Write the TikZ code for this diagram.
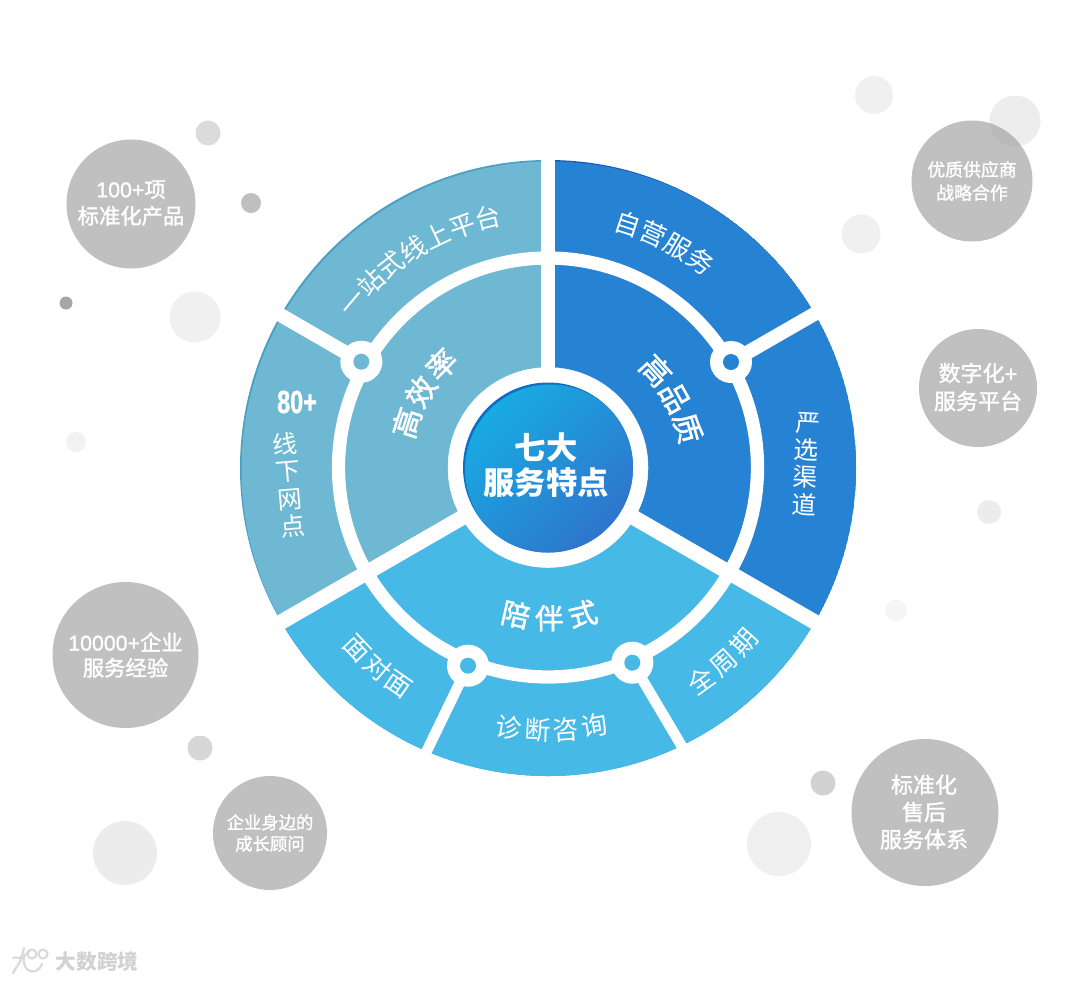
\documentclass[tikz,border=0pt]{standalone}
\usepackage{fontspec}
\setmainfont{Noto Sans CJK SC}
\newfontfamily\med[FakeBold=1.5]{Noto Sans CJK SC}
\newfontfamily\lat[FakeBold=1.2]{Liberation Sans}
\usetikzlibrary{decorations.text}
\definecolor{teal}{HTML}{6FB8D3}\definecolor{tealD}{HTML}{4A9FC2}
\definecolor{blu}{HTML}{2683D3}\definecolor{bluD}{HTML}{1A5CB8}
\definecolor{sky}{HTML}{46B9E6}\definecolor{skyD}{HTML}{2A8ED6}
\definecolor{gcirc}{HTML}{C0C0C0}
\definecolor{cTop}{HTML}{18ABE2}\definecolor{cBot}{HTML}{2F74CC}\definecolor{cRim}{HTML}{0F6EC4}
\newcommand\fs[1]{\fontsize{#1}{#1}\selectfont}
% text along an arc about C: text, radius, start angle, end angle, font commands
\newcommand\arctext[5]{\path[decorate,decoration={text along path,text color=white,text align={fit to path},text={|#5|#1}}] ([shift={(C)}]#3:#2) arc[start angle=#3,end angle=#4,radius=#2];}
\newcommand\wheelpaths[1]{%
  \draw[#1,line width=11pt] (C) -- (T);
  \draw[#1,line width=11.5pt] (C) -- (RL);
  \draw[#1,line width=11.5pt] (C) -- (LL);
  \draw[#1,line width=10.5pt] (NW) -- (NWo);
  \draw[#1,line width=10.5pt] (NE) -- (NEo);
  \draw[#1,line width=8pt] (SL) -- (SLo);
  \draw[#1,line width=8pt] (SR) -- (SRo);
  \draw[#1,line width=10pt] (Cr) circle[radius=209.5];
  \fill[#1] (Cr) circle[radius=100];
}
\tikzset{
  big/.style={circle,fill=gcirc,inner sep=0,text=white,align=center},
  dotc/.style={fill=#1},
  ctext/.style={text=white,inner sep=0,align=center}
}
\begin{document}
\begin{tikzpicture}[x=0.75pt,y=0.75pt]
\useasboundingbox (0,0) rectangle (1080,-982);
\fill[white] (0,0) rectangle (1080,-982);
% anchor points
\coordinate (C) at (548,-468);
\coordinate (Cr) at (548,-467.5);
\coordinate (T) at (548,-140);
\coordinate (RL) at (840,-636.6);
\coordinate (LL) at (256,-636.6);
\coordinate (NW) at (361.3,-361.7);
\coordinate (NE) at (731,-362);
\coordinate (SL) at (468,-665.7);
\coordinate (SR) at (632.3,-662.7);
\coordinate (NWo) at (265,-306);
\coordinate (NEo) at (830,-305);
\coordinate (SLo) at (420,-765);
\coordinate (SRo) at (690,-760);
% small decorative circles
\fill[gray!12] (874,-95) circle[radius=19];
\fill[gray!12] (861,-234) circle[radius=19.5];
\fill[gray!15] (989,-512) circle[radius=12];
\fill[gray!8] (896,-610) circle[radius=10.5];
\fill[gray!35] (823,-783) circle[radius=12.5];
\fill[gray!12] (779,-844) circle[radius=32];
\fill[gray!32] (200,-748) circle[radius=12.5];
\fill[gray!15] (125,-853) circle[radius=32];
\fill[gray!10] (76,-442) circle[radius=10];
\fill[gray!70] (66,-303) circle[radius=6.5];
\fill[gray!12] (195,-317) circle[radius=25.5];
\fill[gray!50] (251,-203) circle[radius=10];
\fill[gray!28] (208,-133) circle[radius=12.5];
% grey label circles
\node[big,minimum size=129*0.75pt] (c1) at (131,-204) {};
\node[big,minimum size=121*0.75pt] (c2) at (972,-181) {};
\node[big,minimum size=118*0.75pt] (c3) at (978,-388) {};
\node[big,minimum size=146*0.75pt] (c4) at (125.5,-655) {};
\node[big,minimum size=114*0.75pt] (c5) at (270,-833) {};
\node[big,minimum size=147*0.75pt] (c6) at (925,-812.5) {};
\fill[black!38,opacity=.18] (1015,-121) circle[radius=25.5];
\node[ctext,font=\med\fs{16}] (t1) at (131,-203) {{\lat 100+}项\\[4pt]标准化产品};
\node[ctext,font=\med\fs{13.4}] (t2) at (972,-181) {优质供应商\\[4pt]战略合作};
\node[ctext,font=\med\fs{16.5}] (t3) at (978,-387) {数字化{\lat +}\\[4.5pt]服务平台};
\node[ctext,font=\med\fs{16}] (t4) at (125.5,-655) {{\lat 10000+}企业\\[3pt]服务经验};
\node[ctext,font=\med\fs{13}] (t5) at (270,-833) {企业身边的\\[3pt]成长顾问};
\node[ctext,font=\med\fs{16.5}] (t6) at (924,-812) {标准化\\[4pt]售后\\[4pt]服务体系};
% coloured sectors with their top-left shadow edges
\begin{scope}
  \clip (C) circle[radius=308];
  \begin{scope}
    \clip (C) -- ([shift={(C)}]90:800) -- ([shift={(C)}]150:800) -- ([shift={(C)}]210:800) -- cycle;
    \fill[tealD] (C) circle[radius=308];
    \fill[teal] (549.5,-469.5) circle[radius=308];
    \begin{scope}[shift={(1.8,-1.8)}]\wheelpaths{tealD,draw=tealD}\end{scope}
  \end{scope}
  \begin{scope}
    \clip (C) -- ([shift={(C)}]90:800) -- ([shift={(C)}]30:800) -- ([shift={(C)}]-30:800) -- cycle;
    \fill[bluD] (C) circle[radius=308];
    \fill[blu] (549.5,-469.5) circle[radius=308];
    \begin{scope}[shift={(1.8,-1.8)}]\wheelpaths{bluD,draw=bluD}\end{scope}
  \end{scope}
  \begin{scope}
    \clip (C) -- ([shift={(C)}]210:800) -- ([shift={(C)}]270:800) -- ([shift={(C)}]330:800) -- cycle;
    \fill[skyD] (C) circle[radius=308];
    \fill[sky] (549.5,-469.5) circle[radius=308];
    \begin{scope}[shift={(1.8,-1.8)}]\wheelpaths{skyD,draw=skyD}\end{scope}
  \end{scope}
\end{scope}
% white separators
\wheelpaths{white,draw=white}
% junction rings
\fill[white] (NW) circle[radius=21];
\fill[white] (NE) circle[radius=21];
\fill[white] (SL) circle[radius=21];
\fill[white] (SR) circle[radius=21];
\fill[dotc=teal] (NW) circle[radius=8];
\fill[dotc=blu] (NE) circle[radius=8];
\fill[dotc=sky] (SL) circle[radius=8];
\fill[dotc=sky] (SR) circle[radius=8];
% centre disc
\fill[cRim] (Cr) circle[radius=85];
\begin{scope}
  \clip (Cr) circle[radius=85];
  \shade[top color=cTop,bottom color=cBot,shading angle=45] (550,-469.5) circle[radius=85];
\end{scope}
\node[ctext,font=\bfseries\fs{23.5}] (centre) at (546,-465) {七大\\[2.5pt]服务特点};
% outer ring texts
\arctext{一站式线上平台}{247}{142.7}{100.5}{\fs{19.5}}
\arctext{自营服务}{247}{75}{50.5}{\fs{19.5}}
\arctext{面对面}{272}{220.8}{238}{\fs{19.5}}
\arctext{诊断咨询}{272}{258.7}{283}{\fs{19.5}}
\arctext{全周期}{272}{303}{321}{\fs{19.5}}
% inner ring texts
\arctext{陪伴式}{161}{252.5}{288.5}{\med\fs{21.5}}
\arctext{高效率}{137}{168.5}{129.5}{\med\fs{22.5}}
\arctext{高品质}{134}{48.5}{9.5}{\med\fs{22.5}}
% stacked texts
\node[ctext,font=\lat\bfseries\fs{24},xscale=0.73,transform shape] (n80) at (297,-402) {80+};
\node[ctext,font=\fs{18.5},rotate=5] (xx) at (289,-485) {线\\[2pt]下\\[2pt]网\\[2pt]点};
\node[ctext,font=\fs{18.5},rotate=-3] (yx) at (806,-464) {严\\[2pt]选\\[2pt]渠\\[2pt]道};
% watermark
\begin{scope}[draw=gray!30,line width=1.6pt,line cap=round,fill=none]
  \draw (13,-958) .. controls (20,-955) and (20,-965) .. (24,-948);
  \draw (13,-973) -- (22,-958) -- (30,-950);
  \draw (24,-956) .. controls (22,-975) and (38,-975) .. (42,-964);
  \draw (32,-954) circle[radius=4.5];
  \draw (43,-954) circle[radius=4.5];
\end{scope}
\node[inner sep=0,text=gray!35,font=\bfseries\fs{15.5}] (wm) at (97,-962) {大数跨境};
\end{tikzpicture}
\end{document}
